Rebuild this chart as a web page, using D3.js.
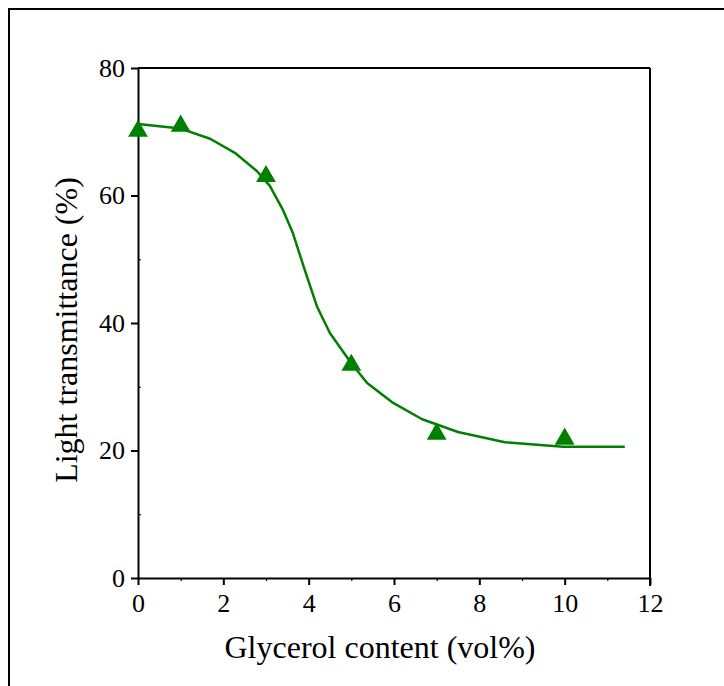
<!DOCTYPE html>
<html>
<head>
<meta charset="utf-8">
<script src="https://cdn.jsdelivr.net/npm/d3@7"></script>
<style>
  body { margin: 0; background: #fff; }
  text { font-family: "Liberation Serif", "Times New Roman", serif; }
</style>
</head>
<body>
<div class="chart"></div>
<script>
const width = 724
const height = 686

// measured points (triangles)
const glycerol = [0, 1, 3, 5, 7, 10]
const transmittance = [70.1, 70.9, 63.0, 33.4, 22.6, 21.8]

// fitted curve
const fitX = [0, 1, 1.69, 2.27, 2.79, 3.09, 3.4, 3.63, 3.9, 4.2, 4.5, 5.0, 5.37, 5.95, 6.66, 7.5, 8.6, 9.96, 11.41]
const fitY = [71.2, 70.5, 68.9, 66.7, 63.8, 61.5, 57.7, 54.1, 48.5, 42.5, 38.4, 33.7, 30.6, 27.6, 24.9, 22.9, 21.3, 20.6, 20.6]

const xTicks = [0, 2, 4, 6, 8, 10, 12]
const yTicks = [0, 20, 40, 60, 80]
const xMinor = [1, 3, 5, 7, 9, 11]
const yMinor = [10, 30, 50, 70]

const margin = {left: 138, right: width - 650, top: 68, bottom: height - 578}

const svg = d3.select('.chart')
    .append('svg')
    .attr('width', width)
    .attr('height', height)

// outer frame
svg.append('rect')
    .attr('x', 9).attr('y', 9)
    .attr('width', width).attr('height', height)
    .attr('fill', 'none')
    .attr('stroke', '#000')
    .attr('stroke-width', 2)

const x = d3.scaleLinear().domain([0, 12]).range([margin.left, width - margin.right])
const y = d3.scaleLinear().domain([0, 80]).range([height - margin.bottom, margin.top])

// bottom axis
const xAxis = svg.append('g')
    .attr('transform', `translate(0, ${y(0)})`)
    .call(d3.axisBottom(x).tickValues(xTicks).tickSize(7).tickPadding(9).tickSizeOuter(0))
xAxis.select('.domain').attr('stroke-width', 2)
xAxis.selectAll('.tick line').attr('stroke-width', 2)
xAxis.selectAll('text').attr('font-size', 26).attr('fill', '#000')

svg.append('g')
    .attr('transform', `translate(0, ${y(0)})`)
    .call(d3.axisBottom(x).tickValues(xMinor).tickSize(3).tickFormat(''))
    .call(g => g.select('.domain').remove())
    .selectAll('.tick line').attr('stroke-width', 1.2)

// left axis
const yAxis = svg.append('g')
    .attr('transform', `translate(${x(0)}, 0)`)
    .call(d3.axisLeft(y).tickValues(yTicks).tickSize(7).tickPadding(6).tickSizeOuter(0))
yAxis.select('.domain').attr('stroke-width', 2)
yAxis.selectAll('.tick line').attr('stroke-width', 2)
yAxis.selectAll('text').attr('font-size', 26).attr('fill', '#000')

svg.append('g')
    .attr('transform', `translate(${x(0)}, 0)`)
    .call(d3.axisRight(y).tickValues(yMinor).tickSize(3).tickFormat(''))
    .call(g => g.select('.domain').remove())
    .selectAll('.tick line').attr('stroke-width', 1)

// top and right frame lines
svg.append('line')
    .attr('x1', x(0)).attr('x2', x(12))
    .attr('y1', y(80)).attr('y2', y(80))
    .attr('stroke', '#000').attr('stroke-width', 2)
svg.append('line')
    .attr('x1', x(12)).attr('x2', x(12))
    .attr('y1', y(80)).attr('y2', y(0) + 8)
    .attr('stroke', '#000').attr('stroke-width', 2)

// fitted curve
const line = d3.line()
    .x((d, i) => x(fitX[i]))
    .y(d => y(d))
svg.append('path')
    .datum(fitY)
    .attr('d', line)
    .attr('fill', 'none')
    .attr('stroke', '#008000')
    .attr('stroke-width', 2.5)
    .attr('stroke-linejoin', 'round')

// triangles
svg.append('g')
    .selectAll('path')
    .data(glycerol)
    .join('path')
        .attr('d', d3.symbol(d3.symbolTriangle, 170))
        .attr('transform', (d, i) => `translate(${x(d)}, ${y(transmittance[i])})`)
        .attr('fill', '#008000')

// axis titles
svg.append('text')
    .attr('x', 380)
    .attr('y', 658)
    .attr('text-anchor', 'middle')
    .attr('font-size', 32)
    .text('Glycerol content (vol%)')

svg.append('text')
    .attr('transform', `translate(77, 330) rotate(-90)`)
    .attr('text-anchor', 'middle')
    .attr('font-size', 32)
    .text('Light transmittance (%)')
</script>
</body>
</html>
